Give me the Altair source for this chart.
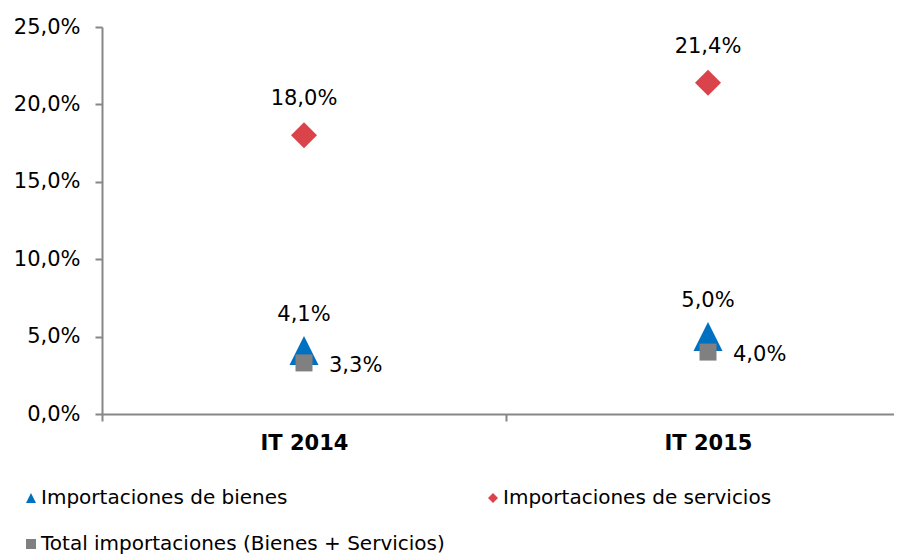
import altair as alt
import pandas as pd

categories = ["IT 2014", "IT 2015"]
series = ["Importaciones de bienes", "Importaciones de servicios", "Total importaciones (Bienes + Servicios)"]
bienes = [4.1, 5.0]
servicios = [18.0, 21.4]
total = [3.3, 4.0]
y_ticks = [0, 5, 10, 15, 20, 25]

colors = ["#0070C0", "#DA434A", "#808080"]
shapes = ["M0,-1L1,1L-1,1Z", "diamond", "square"]
sizes = [841, 676, 289]

rows = []
for s, vals in zip(series, [bienes, servicios, total]):
    for i, (c, v) in enumerate(zip(categories, vals)):
        rows.append({"serie": s, "cat": c, "pos": i + 0.5, "valor": v,
                     "etiqueta": f"{v:.1f}%".replace(".", ",")})
df = pd.DataFrame(rows)

FONT = "DejaVu Sans"
PLOT_W, PLOT_H = 792, 387
STEP = 404

label_expr = " : ".join(
    [f"datum.value < {i + 1} ? '{c}'" for i, c in enumerate(categories[:-1])] + [f"'{categories[-1]}'"]
)

x_enc = alt.X("pos:Q",
              scale=alt.Scale(domain=[0, PLOT_W / STEP], nice=False, zero=False),
              axis=alt.Axis(values=[i + 0.5 for i in range(len(categories))],
                            labelExpr=label_expr, title=None,
                            tickOffset=-STEP / 2, labelOffset=STEP / 2,
                            labelFont=FONT, labelFontSize=21, labelFontWeight="bold",
                            labelColor="#000000", labelPadding=11,
                            domainColor="#878787", domainWidth=2,
                            tickColor="#878787", tickWidth=2, tickSize=7, grid=False))
y_enc = alt.Y("valor:Q",
              scale=alt.Scale(domain=[0, 25], nice=False),
              axis=alt.Axis(values=y_ticks, title=None,
                            labelExpr="replace(format(datum.value, '.1f'), '.', ',') + '%'",
                            labelFont=FONT, labelFontSize=21, labelColor="#000000",
                            labelPadding=15, domainColor="#878787", domainWidth=2,
                            tickColor="#878787", tickWidth=2, tickSize=7, grid=False))

legend_order = [series[0], series[2], series[1]]

color_enc = alt.Color("serie:N",
                      scale=alt.Scale(domain=series, range=colors),
                      legend=alt.Legend(title=None, orient="none", legendX=-81, legendY=461,
                                        values=legend_order,
                                        columns=2, columnPadding=38, rowPadding=26,
                                        labelFont=FONT, labelFontSize=20, labelColor="#000000",
                                        labelOffset=0, symbolSize=100, padding=0,
                                        labelLimit=600))
shape_enc = alt.Shape("serie:N", scale=alt.Scale(domain=series, range=shapes))

base = alt.Chart(df)

layers = []
for s, sz in zip(series, sizes):
    layers.append(
        base.transform_filter(alt.FieldEqualPredicate(field="serie", equal=s))
        .mark_point(filled=True, opacity=1, size=sz)
        .encode(x=x_enc, y=y_enc, color=color_enc, shape=shape_enc)
    )

labels_above = base.transform_filter(
    alt.FieldOneOfPredicate(field="serie", oneOf=series[:2])
).mark_text(font=FONT, fontSize=21, color="#000000", dy=-36, baseline="middle", align="center").encode(
    x=x_enc, y=y_enc, text="etiqueta:N")

labels_right = base.transform_filter(
    alt.FieldEqualPredicate(field="serie", equal=series[2])
).mark_text(font=FONT, fontSize=21, color="#000000", dx=25, dy=3, baseline="middle", align="left").encode(
    x=x_enc, y=y_enc, text="etiqueta:N")

chart = alt.layer(*layers, labels_above, labels_right).properties(
    width=PLOT_W, height=PLOT_H,
    autosize=alt.AutoSizeParams(type="none"),
    padding={"left": 94, "top": 19, "right": 0, "bottom": 140},
).configure_view(stroke=None).configure_axis(grid=False)

chart.save("out.html", embed_options={"renderer": "svg", "actions": False})
